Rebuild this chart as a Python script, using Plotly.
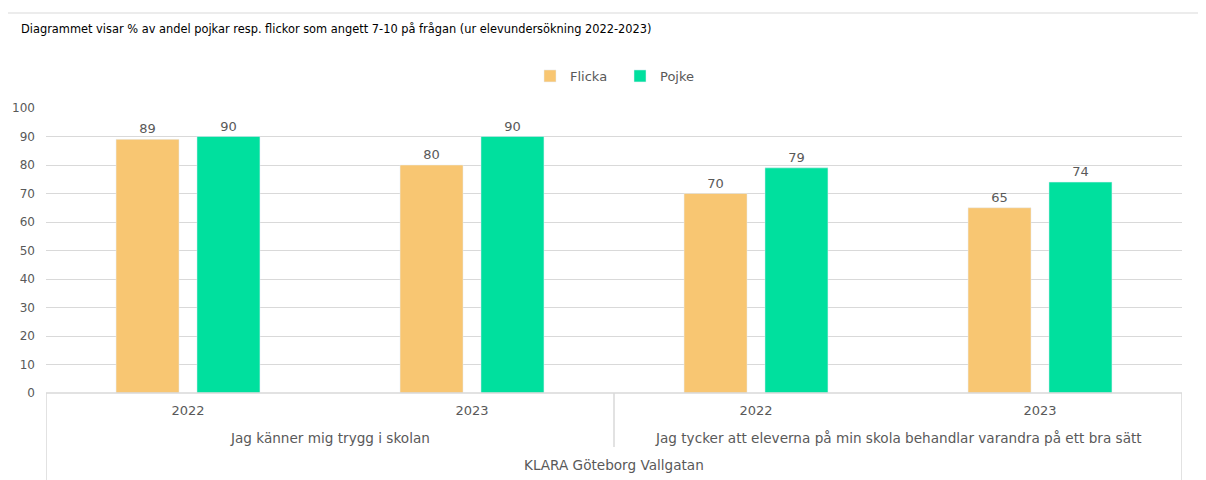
import plotly.graph_objects as go

years = ["2022", "2023", "2022", "2023"]
questions = ["Jag känner mig trygg i skolan",
             "Jag tycker att eleverna på min skola behandlar varandra på ett bra sätt"]
school = "KLARA Göteborg Vallgatan"
flicka = [89, 80, 70, 65]
pojke = [90, 90, 79, 74]
title = "Diagrammet visar % av andel pojkar resp. flickor som angett 7-10 på frågan (ur elevundersökning 2022-2023)"

OFF = 8  # page body margin
W, H = 1206 - OFF, 480 - OFF
L, R, T, B = 46 - OFF, 24, 108 - OFF, 87
PW, PH = W - L - R, H - T - B
FONT = "DejaVu Sans"
GRAY = "#595959"
LINE = "#D9D9D9"

def px_x(x):
    return (x - OFF - L) / PW

def px_y(y):
    return (H - B - (y - OFF)) / PH

xs = list(range(len(years)))

fig = go.Figure()
fig.add_trace(go.Bar(x=xs, y=flicka, name="Flicka", marker_color="#F8C672",
                     text=flicka, textposition="outside", cliponaxis=False,
                     textfont=dict(color=GRAY, size=13, family=FONT)))
fig.add_trace(go.Bar(x=xs, y=pojke, name="Pojke", marker_color="#00E09E",
                     text=pojke, textposition="outside", cliponaxis=False,
                     textfont=dict(color=GRAY, size=13, family=FONT)))

fig.update_layout(
    width=W, height=H,
    margin=dict(l=L, r=R, t=T, b=B, autoexpand=False),
    paper_bgcolor="white", plot_bgcolor="white",
    barmode="group", bargap=0.43, bargroupgap=0.222,
    font=dict(family=FONT, color=GRAY, size=13),
    showlegend=True,
    legend=dict(orientation="h", x=px_x(620), xref="paper", xanchor="center",
                y=px_y(76), yref="paper", yanchor="middle",
                font=dict(size=13, color=GRAY, family=FONT), itemwidth=30,
                entrywidthmode="pixels", entrywidth=45),
    xaxis=dict(range=[-0.5, 3.5], tickmode="array", tickvals=xs, ticktext=years,
               showgrid=False, zeroline=False, showline=False, ticks="",
               automargin=False,
               ticklabelstandoff=8, tickfont=dict(size=13, color=GRAY)),
    yaxis=dict(range=[0, 100], tickmode="array", tickvals=list(range(0, 101, 10)),
               showgrid=True, gridcolor=LINE, gridwidth=1, zeroline=False,
               automargin=False,
               showline=False, ticks="", tickfont=dict(size=12, color=GRAY),
               ticklabelstandoff=10),
)

shapes = []
shapes.append(dict(type="line", xref="paper", yref="paper", x0=0, x1=1, y0=0, y1=0,
                   line=dict(color=LINE, width=1.5)))
for xv in [-0.5, 3.5]:
    shapes.append(dict(type="line", xref="x", yref="paper", x0=xv, x1=xv, y0=0, y1=px_y(480),
                       line=dict(color=LINE, width=1.5)))
shapes.append(dict(type="line", xref="x", yref="paper", x0=1.5, x1=1.5, y0=0, y1=px_y(447),
                   line=dict(color=LINE, width=1.5)))
shapes.append(dict(type="line", xref="paper", yref="paper",
                   x0=px_x(6), x1=px_x(1206), y0=px_y(13), y1=px_y(13),
                   line=dict(color=LINE, width=1.2)))
shapes.append(dict(type="line", xref="paper", yref="paper",
                   x0=px_x(6), x1=px_x(6), y0=px_y(13), y1=px_y(480),
                   line=dict(color=LINE, width=1.2)))
fig.update_layout(shapes=shapes)

annotations = []
annotations.append(dict(text=title, xref="paper", yref="paper",
                        x=px_x(19), y=px_y(29), xanchor="left", yanchor="middle",
                        showarrow=False, font=dict(size=11.4, color="black", family=FONT)))
for i, q in enumerate(questions):
    annotations.append(dict(text=q, xref="x", yref="paper", x=2 * i + 0.5, y=px_y(438),
                            xanchor="center", yanchor="middle", showarrow=False,
                            font=dict(size=13.6, color=GRAY, family=FONT)))
annotations.append(dict(text=school, xref="paper", yref="paper", x=0.5, y=px_y(465),
                        xanchor="center", yanchor="middle", showarrow=False,
                        font=dict(size=13.6, color=GRAY, family=FONT)))
fig.update_layout(annotations=annotations)

fig.write_html("out.html")
